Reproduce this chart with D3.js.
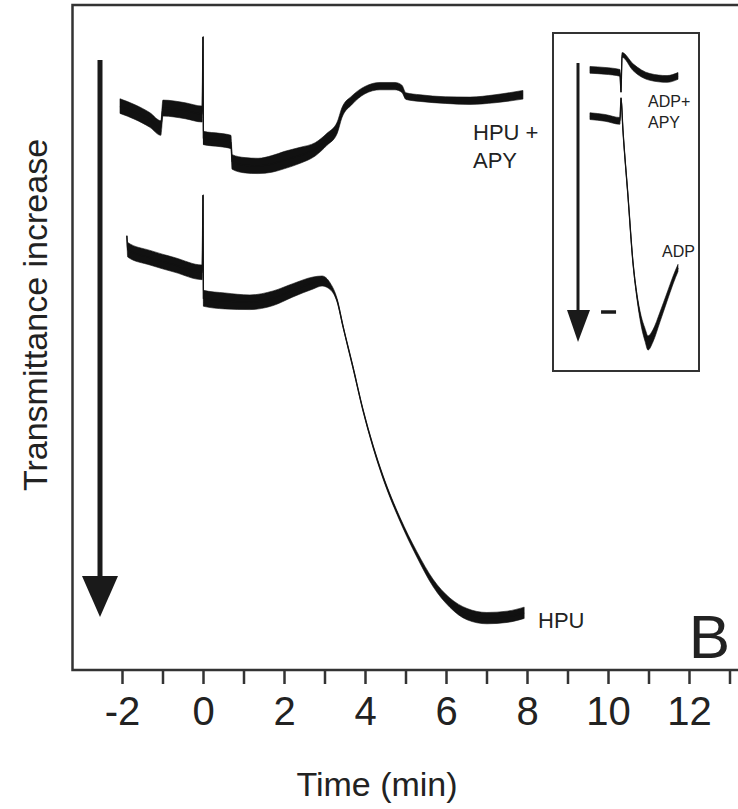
<!DOCTYPE html>
<html>
<head>
<meta charset="utf-8">
<script src="https://cdn.jsdelivr.net/npm/d3@7"></script>
<style>
  body { margin: 0; background: #fff; }
  svg { display: block; font-family: "Liberation Sans", Arial, sans-serif; }
  .frame { fill: none; stroke: #333; stroke-width: 2.5; }
  .band { fill: #111; stroke: #111; stroke-width: 0.6; }
  .trace { fill: none; stroke: #111; stroke-width: 1.3; }
  .label { fill: #222; }
</style>
</head>
<body>
<svg width="738" height="809"></svg>
<script>
// main traces: time (min), signal (arbitrary units), noise band (peak to peak)
const hpuApyTime   = [-2.05, -1.68, -1.31, -1.04, -0.99, -0.44, -0.02, 0, 0.01, 0.42, 0.69, 0.72, 1.04, 1.36, 1.70, 2.02, 2.40, 2.77, 3.06, 3.31, 3.43, 3.68, 4.00, 4.37, 4.74, 4.91, 5.01, 5.36, 5.98, 6.59, 7.21, 7.90];
const hpuApySignal = [84.8, 83.9, 82.7, 81.5, 84.5, 84.1, 83.6, 95.2, 80.0, 79.7, 79.4, 76.4, 75.9, 75.8, 76.1, 76.7, 77.4, 78.3, 79.8, 81.5, 83.8, 85.7, 87.2, 87.8, 87.8, 87.4, 86.3, 86.0, 85.7, 85.6, 85.9, 86.5];
const hpuApyNoise  = [2.2, 2.2, 2.2, 2.2, 2.4, 2.4, 2.4, 0, 2.0, 2.0, 2.0, 2.2, 2.3, 2.3, 2.5, 2.6, 2.4, 2.0, 1.8, 1.7, 1.5, 1.3, 1.1, 1.1, 1.1, 1.1, 1.0, 1.0, 1.0, 1.1, 1.2, 1.3];

const hpuTime   = [-1.88, -1.86, -1.31, -0.69, -0.02, 0, 0.01, 0.54, 1.16, 1.73, 2.22, 2.72, 2.94, 3.14, 3.31, 3.46, 3.70, 3.95, 4.20, 4.44, 4.86, 5.28, 5.68, 6.10, 6.52, 7.01, 7.51, 7.93];
const hpuSignal = [65.3, 63.2, 62.0, 60.9, 59.8, 71.4, 55.9, 55.5, 55.3, 55.9, 57.1, 58.2, 58.5, 57.7, 55.6, 51.6, 45.6, 39.1, 33.6, 29.1, 22.7, 17.4, 13.1, 10.1, 8.4, 7.8, 8.0, 8.6];
const hpuNoise  = [0, 2.2, 2.2, 2.2, 2.2, 0, 2.4, 2.4, 2.2, 2.2, 2.0, 1.8, 1.5, 1.0, 0.5, 0.3, 0.3, 0.3, 0.4, 0.5, 0.6, 0.8, 1.1, 1.4, 1.7, 1.7, 1.7, 1.7];

// inset traces
const adpApyTime   = [-2.07, -1.07, -0.07, 0, 0.07, 0.8, 1.93, 3.07, 3.8];
const adpApySignal = [89.1, 88.8, 88.2, 82.5, 93.5, 89.9, 87.0, 86.4, 87.3];
const adpApyNoise  = [2.0, 2.0, 2.0, 0, 1.4, 2.0, 2.0, 2.0, 2.0];

const adpTime   = [-2.07, -1.07, -0.07, 0, 0.13, 0.47, 0.8, 1.07, 1.33, 1.6, 1.8, 2.13, 2.6, 3.07, 3.47, 3.8];
const adpSignal = [75.4, 74.9, 74.0, 80.8, 71.3, 51.5, 32.0, 21.9, 15.1, 10.7, 8.3, 10.4, 16.0, 21.9, 26.9, 30.5];
const adpNoise  = [2.0, 2.0, 2.0, 0, 0.3, 0.3, 0.5, 1.4, 2.8, 3.8, 4.2, 3.6, 2.9, 2.5, 2.3, 2.1];

const tickValues = d3.range(-2, 14);
const tickLabels = ["-2", "0", "2", "4", "6", "8", "10", "12"];

const svg = d3.select("svg");

const x = d3.scaleLinear().domain([-2, 12]).range([122, 689]);
const y = d3.scaleLinear().domain([0, 100]).range([670, 5]);

const ix = d3.scaleLinear().domain([0, 1]).range([621, 636]);
const iy = d3.scaleLinear().domain([0, 100]).range([371, 33]);

function zipTrace(time, signal, noise) {
  return time.map((t, i) => ({t: t, v: signal[i], n: noise[i]}));
}

function drawTrace(g, data, sx, sy) {
  g.append("path")
    .datum(data)
    .attr("class", "band")
    .attr("d", d3.area()
      .curve(d3.curveMonotoneX)
      .x(d => sx(d.t))
      .y0(d => sy(d.v - d.n / 2))
      .y1(d => sy(d.v + d.n / 2)));

  g.append("path")
    .datum(data)
    .attr("class", "trace")
    .attr("d", d3.line()
      .curve(d3.curveMonotoneX)
      .x(d => sx(d.t))
      .y(d => sy(d.v)));
}

// frame
svg.append("path")
  .attr("class", "frame")
  .attr("d", "M738,5H72.5V670H738");

// x axis ticks and labels
const axis = d3.axisBottom(x)
  .tickValues(tickValues)
  .tickSize(14)
  .tickPadding(13)
  .tickFormat(d => tickLabels.includes(String(d)) ? String(d) : "");

const gx = svg.append("g")
  .attr("transform", "translate(0,670)")
  .call(axis);

gx.select(".domain").remove();
gx.selectAll(".tick line").attr("stroke", "#333").attr("stroke-width", 2.5);
gx.selectAll(".tick text")
  .attr("fill", "#222")
  .style("font-size", "40px")
  .style("font-family", "'Liberation Sans', Arial, sans-serif");

svg.append("text")
  .attr("class", "label")
  .attr("x", 377).attr("y", 796)
  .attr("text-anchor", "middle")
  .style("font-size", "34px")
  .text("Time (min)");

svg.append("text")
  .attr("class", "label")
  .attr("transform", "translate(47,315) rotate(-90)")
  .attr("text-anchor", "middle")
  .style("font-size", "34px")
  .text("Transmittance increase");

// big arrow
svg.append("line")
  .attr("x1", 100).attr("y1", 60).attr("x2", 100).attr("y2", 580)
  .attr("stroke", "#1a1a1a").attr("stroke-width", 5);
svg.append("path")
  .attr("d", "M82,576L118,576L100,617Z")
  .attr("fill", "#1a1a1a");

// traces
const main = svg.append("g");
drawTrace(main, zipTrace(hpuApyTime, hpuApySignal, hpuApyNoise), x, y);
drawTrace(main, zipTrace(hpuTime, hpuSignal, hpuNoise), x, y);

svg.append("text").attr("class", "label")
  .attr("x", 473).attr("y", 140).style("font-size", "22px").text("HPU +");
svg.append("text").attr("class", "label")
  .attr("x", 473).attr("y", 168).style("font-size", "22px").text("APY");
svg.append("text").attr("class", "label")
  .attr("x", 538).attr("y", 628).style("font-size", "22px").text("HPU");

svg.append("text").attr("class", "label")
  .attr("x", 730).attr("y", 658)
  .attr("text-anchor", "end")
  .style("font-size", "62px")
  .text("B");

// inset
const inset = svg.append("g");
inset.append("rect")
  .attr("x", 553).attr("y", 33).attr("width", 146).attr("height", 338)
  .attr("fill", "#fff").attr("stroke", "#333").attr("stroke-width", 2);

inset.append("line")
  .attr("x1", 578).attr("y1", 63).attr("x2", 578).attr("y2", 315)
  .attr("stroke", "#1a1a1a").attr("stroke-width", 3);
inset.append("path")
  .attr("d", "M567,310L590,310L578,342Z")
  .attr("fill", "#1a1a1a");

// scale bar, one minute
inset.append("line")
  .attr("x1", ix(-1.33)).attr("x2", ix(-0.33)).attr("y1", 312).attr("y2", 312)
  .attr("stroke", "#1a1a1a").attr("stroke-width", 3.5);

drawTrace(inset, zipTrace(adpApyTime, adpApySignal, adpApyNoise), ix, iy);
drawTrace(inset, zipTrace(adpTime, adpSignal, adpNoise), ix, iy);

inset.append("text").attr("class", "label")
  .attr("x", 648).attr("y", 107).style("font-size", "16px").text("ADP+");
inset.append("text").attr("class", "label")
  .attr("x", 648).attr("y", 128).style("font-size", "16px").text("APY");
inset.append("text").attr("class", "label")
  .attr("x", 662).attr("y", 257).style("font-size", "16px").text("ADP");
</script>
</body>
</html>
